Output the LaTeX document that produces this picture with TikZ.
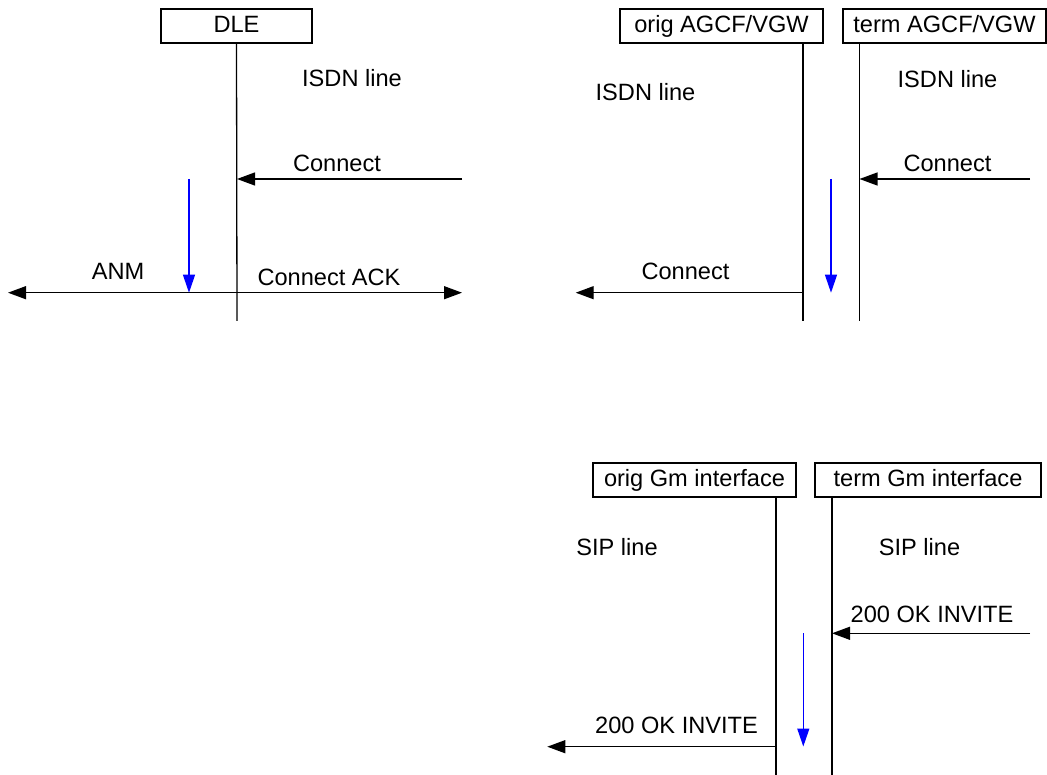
\documentclass[tikz,border=0pt]{standalone}
\usepackage{fontspec}
\setmainfont{Liberation Sans}
\usetikzlibrary{arrows.meta,positioning}
\newcommand\sigfont{\fontsize{23.6}{28}\selectfont}

\begin{document}
\begin{tikzpicture}[
  x=1pt, y=-1pt,
  ent/.style={draw, line width=1.3pt, minimum height=34pt, inner sep=0pt,
              text height=17pt, text depth=4pt, font=\sigfont},
  lbl/.style={anchor=base, inner sep=0pt, font=\sigfont},
  life/.style={line width=1.3pt},
  msg/.style={line width=1.3pt, -{Triangle[length=18pt,width=13pt]}},
  flow/.style={line width=1.3pt, draw=blue, -{Triangle[length=18pt,width=12pt]}, blue}
]
\useasboundingbox (0,0) rectangle (1047,775);

% ── DLE ───────────────────────────────────────────────────────
\node[ent, minimum width=151pt] (dle) at (236.5,26) {DLE};
\coordinate (dle-end) at (237,321);
\draw[life] (dle.south) -- (dle-end);
\node[lbl] (dle-line) at (352,87) {ISDN line};

\coordinate (dle-con) at (237,179);
\coordinate (dle-con-in) at (462,179);
\draw[msg] (dle-con-in) -- (dle-con);
\node[lbl] at (337,172) {Connect};

\coordinate (dle-anm) at (237,292.7);
\coordinate (dle-anm-out) at (8,292.7);
\coordinate (dle-ack-out) at (462,292.7);
\draw[msg] (dle-anm) -- (dle-anm-out);
\draw[msg] (dle-anm) -- (dle-ack-out);
\node[lbl] at (118,280) {ANM};
\node[lbl] at (329,286) {Connect ACK};

\coordinate (dle-flow-a) at (189,179);
\coordinate (dle-flow-b) at (189,292.7);
\draw[flow] (dle-flow-a) -- (dle-flow-b);

% ── AGCF/VGW ──────────────────────────────────────────────────
\node[ent, minimum width=203pt] (oagcf) at (721.5,26) {orig AGCF/VGW};
\node[ent, minimum width=203pt] (tagcf) at (944.5,26) {term AGCF/VGW};
\coordinate (oagcf-end) at (803,321);
\coordinate (tagcf-end) at (859.5,321);
\draw[life] (oagcf.south -| oagcf-end) -- (oagcf-end);
\draw[life] (tagcf.south -| tagcf-end) -- (tagcf-end);
\node[lbl] at (645.5,100.7) {ISDN line};
\node[lbl] at (947.5,87.3) {ISDN line};

\coordinate (tagcf-con) at (859.5,179);
\coordinate (tagcf-con-in) at (1030,179);
\draw[msg] (tagcf-con-in) -- (tagcf-con);
\node[lbl] at (947.5,172) {Connect};

\coordinate (oagcf-con) at (803,292.7);
\coordinate (oagcf-con-out) at (575.7,292.7);
\draw[msg] (oagcf-con) -- (oagcf-con-out);
\node[lbl] at (685.5,280) {Connect};

\coordinate (agcf-flow-a) at (831,179);
\coordinate (agcf-flow-b) at (831,292.7);
\draw[flow] (agcf-flow-a) -- (agcf-flow-b);

% ── Gm interface ──────────────────────────────────────────────
\node[ent, minimum width=203pt] (ogm) at (694.5,480) {orig Gm interface};
\node[ent, minimum width=226pt] (tgm) at (928,480) {term Gm interface};
\coordinate (ogm-end) at (776,775);
\coordinate (tgm-end) at (832,775);
\draw[life] (ogm.south -| ogm-end) -- (ogm-end);
\draw[life] (tgm.south -| tgm-end) -- (tgm-end);
\node[lbl] at (617,555) {SIP line};
\node[lbl] at (919.5,555) {SIP line};

\coordinate (tgm-ok) at (832,633.3);
\coordinate (tgm-ok-in) at (1030,633.3);
\draw[msg] (tgm-ok-in) -- (tgm-ok);
\node[lbl] at (932,622.7) {200 OK INVITE};

\coordinate (ogm-ok) at (776.5,746.7);
\coordinate (ogm-ok-out) at (547.3,746.7);
\draw[msg] (ogm-ok) -- (ogm-ok-out);
\node[lbl] at (676.5,733.3) {200 OK INVITE};

\coordinate (gm-flow-a) at (803.3,633.3);
\coordinate (gm-flow-b) at (803.3,746.5);
\draw[flow] (gm-flow-a) -- (gm-flow-b);
\end{tikzpicture}
\end{document}
